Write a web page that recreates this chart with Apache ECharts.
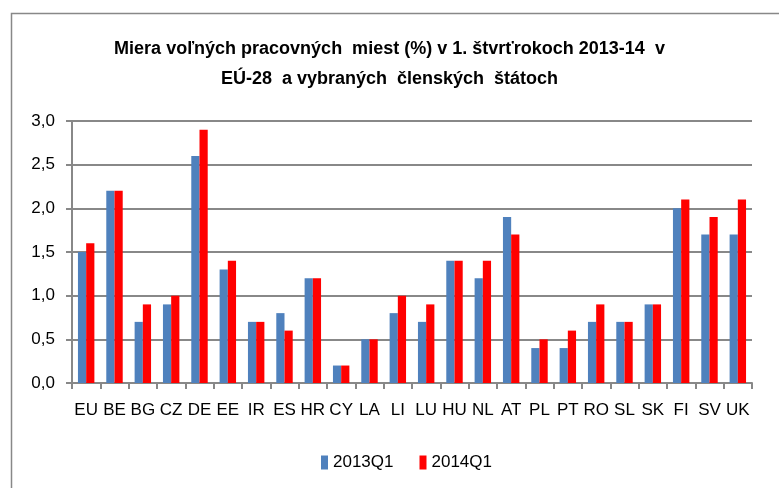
<!DOCTYPE html>
<html>
<head>
<meta charset="utf-8">
<script src="https://cdn.jsdelivr.net/npm/echarts@6/dist/echarts.min.js"></script>
<style>
  html, body { margin: 0; padding: 0; background: #fff; }
  #chart { width: 779px; height: 488px; }
</style>
</head>
<body>
<div id="chart"></div>
<script>
const countries = ['EU', 'BE', 'BG', 'CZ', 'DE', 'EE', 'IR', 'ES', 'HR', 'CY', 'LA', 'LI',
  'LU', 'HU', 'NL', 'AT', 'PL', 'PT', 'RO', 'SL', 'SK', 'FI', 'SV', 'UK'];
const q2013 = [1.5, 2.2, 0.7, 0.9, 2.6, 1.3, 0.7, 0.8, 1.2, 0.2, 0.5, 0.8,
  0.7, 1.4, 1.2, 1.9, 0.4, 0.4, 0.7, 0.7, 0.9, 2.0, 1.7, 1.7];
const q2014 = [1.6, 2.2, 0.9, 1.0, 2.9, 1.4, 0.7, 0.6, 1.2, 0.2, 0.5, 1.0,
  0.9, 1.4, 1.4, 1.7, 0.5, 0.6, 0.9, 0.7, 0.9, 2.1, 1.9, 2.1];

const font = '"Liberation Sans Narrow", "Liberation Sans", Arial, sans-serif';

const chart = echarts.init(document.getElementById('chart'), null, { renderer: 'canvas' });

const option = {
  animation: false,
  textStyle: { fontFamily: font },
  graphic: [{
    type: 'rect',
    shape: { x: 11.5, y: 13.5, width: 800, height: 500 },
    style: { fill: 'none', stroke: '#888', lineWidth: 1.5 },
    silent: true
  }],
  title: {
    text: 'Miera voľných pracovných  miest (%) v 1. štvrťrokoch 2013-14  v\nEÚ-28  a vybraných  členských  štátoch',
    left: 'center',
    top: 29,
    textStyle: { fontFamily: font, fontSize: 18, fontWeight: 'bold', color: '#000', lineHeight: 30 }
  },
  legend: {
    bottom: 12,
    left: 316,
    itemWidth: 7,
    itemHeight: 14,
    itemGap: 26,
    icon: 'rect',
    textStyle: { fontFamily: font, fontSize: 17, color: '#000' },
    data: ['2013Q1', '2014Q1']
  },
  grid: { left: 72, right: 27, top: 121, bottom: 105, containLabel: false },
  xAxis: {
    type: 'category',
    data: countries,
    axisLine: { lineStyle: { color: '#888', width: 2 } },
    axisTick: { show: true, length: 6, lineStyle: { color: '#888', width: 2 } },
    axisLabel: { color: '#000', fontSize: 17, margin: 19, interval: 0 }
  },
  yAxis: {
    type: 'value',
    min: 0,
    max: 3,
    interval: 0.5,
    axisLine: { show: true, lineStyle: { color: '#888', width: 2 } },
    axisTick: { show: true, length: 6, lineStyle: { color: '#888', width: 2 } },
    splitLine: { lineStyle: { color: '#888', width: 2 } },
    axisLabel: {
      color: '#000', fontSize: 17, margin: 17,
      formatter: v => v.toFixed(1).replace('.', ',')
    }
  },
  series: [
    {
      name: '2013Q1',
      type: 'bar',
      data: q2013,
      itemStyle: { color: '#4F81BD' },
      barGap: '0%',
      barCategoryGap: '42%'
    },
    {
      name: '2014Q1',
      type: 'bar',
      data: q2014,
      itemStyle: { color: '#FF0000' }
    }
  ]
};

chart.setOption(option);
</script>
</body>
</html>
